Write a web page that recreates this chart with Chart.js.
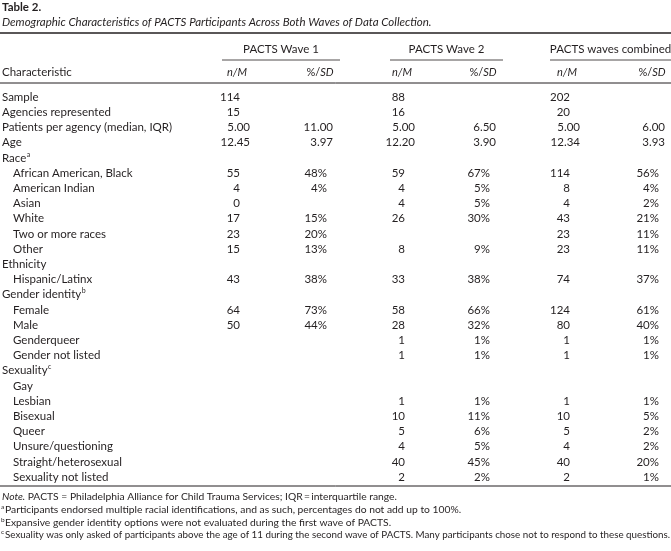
<!DOCTYPE html>
<html>
<head>
<meta charset="utf-8">
<script src="https://cdn.jsdelivr.net/npm/chart.js@4.4.0/dist/chart.umd.min.js"></script>
<style>
  html, body { margin: 0; padding: 0; background: #fff; }
  #wrap { width: 671px; height: 551px; position: relative; }
</style>
</head>
<body>
<div id="wrap"><canvas id="table-chart"></canvas></div>
<script>
// 表格行标签
const rowLabels = [
    'Sample', 'Agencies represented', 'Patients per agency (median, IQR)', 'Age',
    'Race', 'African American, Black', 'American Indian', 'Asian', 'White', 'Two or more races', 'Other',
    'Ethnicity', 'Hispanic/Latinx',
    'Gender identity', 'Female', 'Male', 'Genderqueer', 'Gender not listed',
    'Sexuality', 'Gay', 'Lesbian', 'Bisexual', 'Queer', 'Unsure/questioning', 'Straight/heterosexual', 'Sexuality not listed'
];
// 0 = 分组标题, 1 = 子项
const rowLevel = [0, 0, 0, 0, 0, 1, 1, 1, 1, 1, 1, 0, 1, 0, 1, 1, 1, 1, 0, 1, 1, 1, 1, 1, 1, 1];
const rowMarks = ['', '', '', '', 'a', '', '', '', '', '', '', '', '', 'b', '', '', '', '', 'c', '', '', '', '', '', '', ''];
// 以 M/SD 报告的行
const meanRows = [2, 3];

const groupNames = ['PACTS Wave 1', 'PACTS Wave 2', 'PACTS waves combined'];

const wave1N   = [114, 15, 5.00, 12.45, null, 55, 4, 0, 17, 23, 15, null, 43, null, 64, 50, null, null, null, null, null, null, null, null, null, null];
const wave1Pct = [null, null, 11.00, 3.97, null, 48, 4, null, 15, 20, 13, null, 38, null, 73, 44, null, null, null, null, null, null, null, null, null, null];
const wave2N   = [88, 16, 5.00, 12.20, null, 59, 4, 4, 26, null, 8, null, 33, null, 58, 28, 1, 1, null, null, 1, 10, 5, 4, 40, 2];
const wave2Pct = [null, null, 6.50, 3.90, null, 67, 5, 5, 30, null, 9, null, 38, null, 66, 32, 1, 1, null, null, 1, 11, 6, 5, 45, 2];
const combN    = [202, 20, 5.00, 12.34, null, 114, 8, 4, 43, 23, 23, null, 74, null, 124, 80, 1, 1, null, null, 1, 10, 5, 4, 40, 2];
const combPct  = [null, null, 6.00, 3.93, null, 56, 4, 2, 21, 11, 11, null, 37, null, 61, 40, 1, 1, null, null, 1, 5, 2, 2, 20, 1];

const titleText = 'Table 2.';
const subtitleText = 'Demographic Characteristics of PACTS Participants Across Both Waves of Data Collection.';
const noteText = 'PACTS = Philadelphia Alliance for Child Trauma Services; IQR\u2009=\u2009interquartile range.';
const footnotes = [
    ['a', 'Participants endorsed multiple racial identifications, and as such, percentages do not add up to 100%.'],
    ['b', 'Expansive gender identity options were not evaluated during the first wave of PACTS.'],
    ['c', 'Sexuality was only asked of participants above the age of 11 during the second wave of PACTS. Many participants chose not to respond to these questions.']
];

// 布局 (坐标系单位 = 像素)
const W = 671, H = 551;
const FONT = 'Lato, "Open Sans", sans-serif';
const INK = '#231f20';
const ROW_TOP = 97, ROW_H = 15.2;
const groups = [
    { from: 222, to: 340, nCenter: 237, pCenter: 320, n: wave1N, p: wave1Pct },
    { from: 390, to: 503, nCenter: 402, pCenter: 483, n: wave2N, p: wave2Pct },
    { from: 550, to: 671, nCenter: 567, pCenter: 652, n: combN, p: combPct }
];

function rowY(i) { return ROW_TOP + i * ROW_H; }

// 绘制表格的插件
const tablePlugin = {
    id: 'tableText',
    afterDraw(chart) {
        const ctx = chart.ctx;
        const sx = chart.scales.x, sy = chart.scales.y;
        const px = v => sx.getPixelForValue(v);
        const py = v => sy.getPixelForValue(v);

        ctx.save();
        ctx.fillStyle = INK;
        ctx.strokeStyle = INK;
        ctx.textBaseline = 'middle';

        function rule(x1, x2, y, w) {
            ctx.lineWidth = w;
            ctx.beginPath();
            ctx.moveTo(px(x1), py(y));
            ctx.lineTo(px(x2), py(y));
            ctx.stroke();
        }
        function text(t, x, y, font, align, maxW) {
            ctx.font = font;
            ctx.textAlign = align || 'left';
            if (maxW) ctx.fillText(t, px(x), py(y), maxW);
            else ctx.fillText(t, px(x), py(y));
        }

        // 标题
        text(titleText, 2, 7, 'bold 11.5px ' + FONT);
        text(subtitleText, 2, 22, 'italic 11.5px ' + FONT);
        rule(0, W, 33, 1.3);

        // 分组表头
        groups.forEach((g, k) => {
            text(groupNames[k], (g.from + g.to) / 2, 49, '11.5px ' + FONT, 'center');
            rule(g.from, g.to, 60, 0.8);
            text('n/M', g.nCenter, 72, 'italic 11px ' + FONT, 'center');
            // %/SD
            ctx.font = '11px ' + FONT;
            const w1 = ctx.measureText('%/').width;
            ctx.font = 'italic 11px ' + FONT;
            const w2 = ctx.measureText('SD').width;
            const left = g.pCenter - (w1 + w2) / 2;
            text('%/', left, 72, '11px ' + FONT);
            text('SD', left + w1, 72, 'italic 11px ' + FONT);
        });
        text('Characteristic', 2, 72, '11.5px ' + FONT);
        rule(0, W, 83, 1);

        // 行
        rowLabels.forEach((label, i) => {
            const y = rowY(i);
            const x = rowLevel[i] ? 13 : 2;
            text(label, x, y, '11.5px ' + FONT);
            if (rowMarks[i]) {
                ctx.font = '11.5px ' + FONT;
                const w = ctx.measureText(label).width;
                text(rowMarks[i], x + w + 0.5, y - 3.5, '7px ' + FONT);
            }
            const isMean = meanRows.includes(i);
            groups.forEach(g => {
                const n = g.n[i], p = g.p[i];
                if (n !== null) {
                    if (isMean) text(n.toFixed(2), g.nCenter + 13, y, '11.5px ' + FONT, 'right');
                    else text(String(n), g.nCenter + 3, y, '11.5px ' + FONT, 'right');
                }
                if (p !== null) {
                    if (isMean) text(p.toFixed(2), g.pCenter + 13, y, '11.5px ' + FONT, 'right');
                    else text(p + '%', g.pCenter + 7, y, '11.5px ' + FONT, 'right');
                }
            });
        });
        rule(0, W, 486, 1);

        // 注释
        const FN = '10.3px ' + FONT;
        text('Note.', 2, 497, 'italic ' + FN);
        ctx.font = 'italic ' + FN;
        const nw = ctx.measureText('Note. ').width;
        text(noteText, 2 + nw, 497, FN);
        footnotes.forEach(([m, t], k) => {
            const y = 510 + k * 12.5;
            text(m, 1, y - 3, '6.5px ' + FONT);
            text(t, 5, y, FN, 'left', px(W) - px(5) - 1);
        });

        ctx.restore();
    }
};

new Chart(document.getElementById('table-chart'), {
    type: 'scatter',
    data: { datasets: [{ data: [], pointRadius: 0 }] },
    options: {
        responsive: true,
        maintainAspectRatio: false,
        animation: false,
        events: [],
        layout: { padding: 0 },
        plugins: { legend: { display: false }, tooltip: { enabled: false } },
        scales: {
            x: { type: 'linear', display: false, min: 0, max: W },
            y: { type: 'linear', display: false, min: 0, max: H, reverse: true }
        }
    },
    plugins: [tablePlugin]
});
</script>
</body>
</html>
